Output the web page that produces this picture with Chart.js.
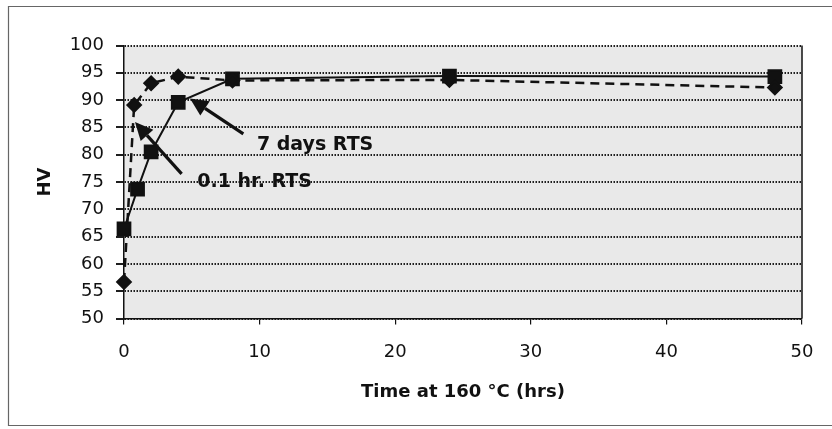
<!DOCTYPE html>
<html>
<head>
<meta charset="utf-8">
<script src="https://cdn.jsdelivr.net/npm/chart.js@4/dist/chart.umd.min.js"></script>
<style>
html,body{margin:0;padding:0;background:#fff}
</style>
</head>
<body>
<canvas id="hv" width="832" height="429"></canvas>
<script>
// time at 160 C (hrs) and hardness
const sevenDaysX = [0, 1, 2, 4, 8, 24, 48];
const sevenDaysHV = [66.4, 73.7, 80.5, 89.6, 93.9, 94.4, 94.3];
const shortX = [0, 0.75, 2, 4, 8, 24, 48];
const shortHV = [56.7, 89.1, 93.1, 94.3, 93.6, 93.7, 92.3];

const xTicks = [0, 10, 20, 30, 40, 50];
const yTicks = [50, 55, 60, 65, 70, 75, 80, 85, 90, 95, 100];

// callouts: text anchor, arrow start, arrow tip (data units)
const noteText = ["7 days RTS", "0.1 hr. RTS"];
const noteAt = [[9.8, 81.7], [5.4, 74.9]];
const arrowFrom = [[8.8, 83.8], [4.25, 76.5]];
const arrowTo = [[4.87, 90.3], [0.81, 86.0]];

const ink = "#111";
const font = "'DejaVu Sans', Arial, sans-serif";

const pts = (xs, ys) => xs.map((x, i) => ({x: x, y: ys[i]}));

const paper = {
  id: "paper",
  beforeDraw(chart) {
    const {ctx, chartArea: a} = chart;
    ctx.save();
    ctx.fillStyle = "#fff";
    ctx.fillRect(0, 0, chart.width, chart.height);
    ctx.strokeStyle = "#666";
    ctx.lineWidth = 1.2;
    ctx.beginPath();
    ctx.moveTo(832, 6.5);
    ctx.lineTo(8.5, 6.5);
    ctx.lineTo(8.5, 425.5);
    ctx.lineTo(832, 425.5);
    ctx.stroke();
    ctx.fillStyle = "#e9e9e9";
    ctx.fillRect(a.left, a.top, a.right - a.left, a.bottom - a.top);
    ctx.restore();
  },
  beforeDatasetsDraw(chart) {
    const {ctx, chartArea: a} = chart;
    ctx.save();
    ctx.strokeStyle = ink;
    ctx.lineWidth = 1.5;
    ctx.beginPath();
    ctx.moveTo(a.right, a.top);
    ctx.lineTo(a.right, a.bottom);
    ctx.stroke();
    ctx.restore();
  },
  afterDatasetsDraw(chart) {
    const {ctx, scales} = chart;
    const px = p => [scales.x.getPixelForValue(p[0]), scales.y.getPixelForValue(p[1])];
    ctx.save();
    ctx.fillStyle = ink;
    ctx.strokeStyle = ink;
    ctx.font = "bold 19px " + font;
    ctx.textBaseline = "middle";
    ctx.textAlign = "left";
    noteText.forEach((t, i) => {
      const [tx, ty] = px(noteAt[i]);
      ctx.fillText(t, tx, ty);
      const [x0, y0] = px(arrowFrom[i]);
      const [x1, y1] = px(arrowTo[i]);
      const ang = Math.atan2(y1 - y0, x1 - x0);
      const len = 18, half = 8.5;
      const bx = x1 - Math.cos(ang) * len, by = y1 - Math.sin(ang) * len;
      ctx.lineWidth = 3.2;
      ctx.beginPath();
      ctx.moveTo(x0, y0);
      ctx.lineTo(bx, by);
      ctx.stroke();
      ctx.beginPath();
      ctx.moveTo(x1, y1);
      ctx.lineTo(bx + Math.sin(ang) * half, by - Math.cos(ang) * half);
      ctx.lineTo(bx - Math.sin(ang) * half, by + Math.cos(ang) * half);
      ctx.closePath();
      ctx.fill();
    });
    ctx.restore();
  }
};

new Chart(document.getElementById("hv"), {
  type: "line",
  data: {
    datasets: [
      {
        label: "0.1 hr. RTS",
        data: pts(shortX, shortHV),
        borderColor: ink,
        backgroundColor: ink,
        borderWidth: 2.5,
        borderDash: [9, 6],
        pointStyle: "rectRot",
        pointRadius: 6.5,
        pointHoverRadius: 6.5,
        clip: false
      },
      {
        label: "7 days RTS",
        data: pts(sevenDaysX, sevenDaysHV),
        borderColor: ink,
        backgroundColor: ink,
        borderWidth: 2,
        pointStyle: "rect",
        pointRadius: 9,
        pointHoverRadius: 9,
        clip: false
      }
    ]
  },
  options: {
    responsive: false,
    devicePixelRatio: 1,
    animation: false,
    layout: {padding: {left: 0, right: 30, top: 45.5, bottom: 0}},
    plugins: {legend: {display: false}, tooltip: {enabled: false}},
    scales: {
      x: {
        type: "linear",
        min: 0,
        max: 50,
        afterFit: s => { s.height = 110.5; },
        afterBuildTicks: s => { s.ticks = xTicks.map(v => ({value: v})); },
        grid: {drawOnChartArea: false, tickLength: 6, color: ink, lineWidth: 1.2},
        border: {color: ink, width: 1.5},
        ticks: {color: ink, font: {family: font, size: 18}, padding: 17, maxRotation: 0},
        title: {
          display: true,
          text: "Time at 160 °C (hrs)",
          color: ink,
          font: {family: font, size: 18, weight: "bold"},
          padding: {top: 0, bottom: 26}
        }
      },
      y: {
        min: 50,
        max: 100,
        afterFit: s => { s.width = 124; },
        afterBuildTicks: s => { s.ticks = yTicks.map(v => ({value: v})); },
        grid: {color: "#1e1e1e", lineWidth: 2, tickLength: 8, tickBorderDash: []},
        border: {color: ink, width: 1.5, dash: [1.5, 1.5]},
        ticks: {color: ink, font: {family: font, size: 18}, padding: 12},
        title: {
          display: true,
          text: "HV",
          color: ink,
          font: {family: font, size: 18, weight: "bold"},
          padding: {top: 35, bottom: 0}
        }
      }
    }
  },
  plugins: [paper]
});
</script>
</body>
</html>
